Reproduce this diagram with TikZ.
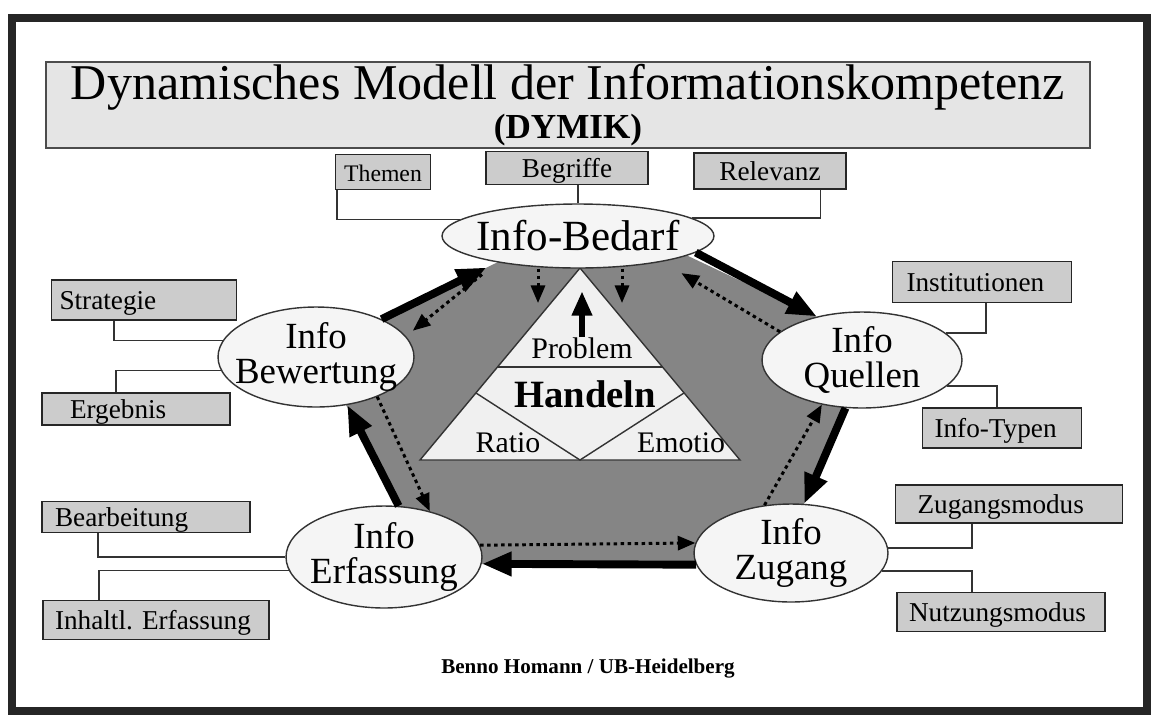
\documentclass[tikz,border=0pt]{standalone}
\usepackage{fontspec}
\setmainfont{Liberation Serif}
\usetikzlibrary{shapes.geometric,arrows.meta}
\frenchspacing

\begin{document}
\begin{tikzpicture}[
  x=0.02cm, y=-0.02cm,
  frame/.style={draw=black!85, line width=4.5pt},
  titlebox/.style={draw=black!70, fill=black!10, line width=0.8pt, minimum width=20.88cm, minimum height=1.72cm, inner sep=0pt, align=center, font=\fontsize{28.5}{22}\selectfont},
  infoell/.style={ellipse, draw=black!80, fill=black!4, line width=0.8pt, inner sep=0pt},
  elltxt/.style={align=center, inner sep=0pt, font=\fontsize{21}{20}\selectfont},
  gbox/.style={draw=black!85, fill=black!20, line width=0.8pt, inner ysep=0pt, text height=13pt, text depth=2pt, align=left, font=\fontsize{15.5}{16}\selectfont},
  link/.style={draw=black!80, line width=1pt},
  mainflow/.style={line width=4.5pt, -{Triangle[length=17pt,width=13pt]}},
  backflow/.style={line width=1.7pt, dash pattern=on 2pt off 2pt, -{Triangle[length=10pt,width=8pt]}},
  tri/.style={inner sep=0pt, font=\fontsize{17}{18}\selectfont},
]
\useasboundingbox (0,0) rectangle (1156,718);

% === Frame and title ===
\draw[frame] (12,18) rectangle (1147,711);
\node[titlebox] (title) at (568,105) {Dynamisches Modell der Informationskompetenz\\{\fontsize{20}{22}\selectfont\bfseries (DYMIK)}};

% === Shaded cycle area ===
\fill[black!48] (381,320) -- (498,262) -- (686,255) -- (817,317) -- (847,403)
  -- (804,504) -- (697,565) -- (481,564) -- (398,507) -- (346,405) -- cycle;

% Triangle: Handeln
\filldraw[fill=black!6, draw=black!80, line width=0.8pt] (580,268) -- (740,460) -- (420,460) -- cycle;
\draw[black!80, line width=0.8pt] (497,367) -- (663,367);
\draw[black!80, line width=0.8pt] (476,393) -- (580,460) -- (684,393);
\node[tri] (problem) at (582,348) {Problem};
\node[tri, font=\fontsize{22}{22}\selectfont\bfseries] (handeln) at (585,394) {Handeln};
\node[tri] (ratio) at (508,443) {Ratio};
\node[tri] (emotio) at (681,443) {Emotio};
\draw[line width=3.5pt, -{Triangle[length=14pt,width=11pt]}] (problem.north) -- ++(0,-46);

% === Info phases ===
\node[infoell, minimum width=5.44cm, minimum height=1.28cm,
  label={[elltxt, font=\fontsize{24.5}{24}\selectfont]center:Info-Bedarf}] (bedarf) at (578,236) {};
\node[infoell, minimum width=3.92cm, minimum height=2cm,
  label={[elltxt]center:{Info\\Bewertung}}] (bewertung) at (316,357) {};
\node[infoell, minimum width=4cm, minimum height=1.92cm,
  label={[elltxt]center:{Info\\Quellen}}] (quellen) at (862,360) {};
\node[infoell, minimum width=3.92cm, minimum height=2.04cm,
  label={[elltxt]center:{Info\\Erfassung}}] (erfassung) at (384,557) {};
\node[infoell, minimum width=3.88cm, minimum height=1.96cm,
  label={[elltxt]center:{Info\\Zugang}}] (zugang) at (791,553) {};

% Main cycle (clockwise)
\draw[mainflow, shorten >=6.6pt] (bewertung.30) -- (bedarf.198);
\draw[mainflow] (bedarf.-8) -- (quellen.136);
\draw[mainflow] (quellen.-109) -- (zugang.75);
\draw[mainflow] (zugang.187) -- (erfassung.-4);
\draw[mainflow] (erfassung.74) -- (bewertung.-57);

% Feedback (dotted, counter-clockwise)
\coordinate (dl) at (538,303);
\coordinate (dr) at (622,303);
\draw[backflow, shorten <=11pt, shorten >=5pt] (bedarf.198) -- (bewertung.13);
\draw[backflow] (bewertung.-33) -- (erfassung.45);
\draw[backflow] (erfassung.7) -- (zugang.174);
\draw[backflow] (zugang.119) -- (quellen.228);
\draw[backflow, shorten >=12.7pt] (quellen.161) -- (bedarf.-17);
\draw[backflow] (bedarf.south -| dl) -- (dl);
\draw[backflow] (bedarf.south -| dr) -- (dr);

% === Aspects ===
\node[gbox, align=center, text width=1.66cm, minimum height=0.7cm, font=\fontsize{13.5}{16}\selectfont] (themen) at (383,172) {Themen};
\node[gbox, align=center, text width=3.0cm, minimum height=0.66cm] (begriffe) at (567,168) {Begriffe};
\node[gbox, align=center, text width=2.8cm, minimum height=0.72cm] (relevanz) at (770,171) {Relevanz};
\node[gbox, inner xsep=0.16cm, text width=3.38cm, minimum height=0.8cm] (strategie) at (144,300) {Strategie};
\node[gbox, inner xsep=0.56cm, text width=2.64cm, minimum height=0.64cm] (ergebnis) at (136,409) {Ergebnis};
\node[gbox, inner xsep=0.28cm, text width=3.02cm, minimum height=0.82cm] (institutionen) at (982,282) {Institutionen};
\node[gbox, inner xsep=0.24cm, text width=2.7cm, minimum height=0.8cm] (infotypen) at (1002,428) {Info-Typen};
\node[gbox, inner xsep=0.26cm, text width=3.64cm, minimum height=0.62cm] (bearbeitung) at (146,517) {Bearbeitung};
\node[gbox, inner xsep=0.24cm, text width=4.04cm, minimum height=0.78cm] (inhaltl) at (156,620) {Inhaltl. Erfassung};
\node[gbox, inner xsep=0.44cm, text width=3.66cm, minimum height=0.76cm] (zugangsmodus) at (1009,504) {Zugangsmodus};
\node[gbox, inner xsep=0.24cm, text width=3.68cm, minimum height=0.78cm] (nutzungsmodus) at (1001,612) {Nutzungsmodus};

\draw[link] ([shift={(2,0)}]themen.south west) |- (bedarf.172);
\draw[link] (begriffe.south -| bedarf.north) -- (bedarf.north);
\draw[link] ([shift={(127,0)}]relevanz.south west) |- (bedarf.9);
\draw[link] ([shift={(63,0)}]strategie.south west) |- (bewertung.170);
\draw[link] ([shift={(75,0)}]ergebnis.north west) |- (bewertung.188);
\draw[link] ([shift={(94,0)}]institutionen.south west) |- (quellen.18);
\draw[link] ([shift={(75,0)}]infotypen.north west) |- (quellen.-17);
\draw[link] ([shift={(57,0)}]bearbeitung.south west) |- (erfassung.180);
\draw[link] ([shift={(57,0)}]inhaltl.north west) |- (erfassung.188);
\draw[link] ([shift={(77,0)}]zugangsmodus.south west) |- (zugang.3);
\draw[link] ([shift={(76,0)}]nutzungsmodus.north west) |- (zugang.-11);

\node[font=\fontsize{12}{12}\selectfont\bfseries] (credit) at (588,668) {Benno Homann / UB-Heidelberg};

\end{tikzpicture}
\end{document}
